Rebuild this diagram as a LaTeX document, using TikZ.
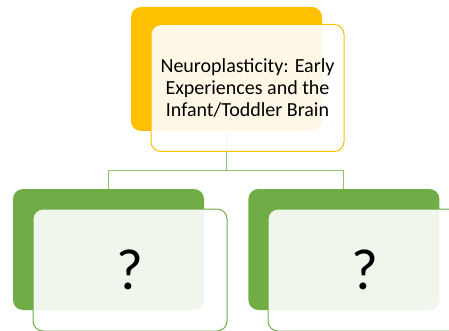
\documentclass[tikz,border=0pt]{standalone}
\usepackage{fontspec}
\setmainfont{Carlito}
\usepackage{xcolor}
\usetikzlibrary{positioning}

\definecolor{gold}{HTML}{FFC000}
\definecolor{leaf}{HTML}{70AD47}
\definecolor{leaflink}{HTML}{8CC168}

\begin{document}
\begin{tikzpicture}[
    x=1pt, y=-1pt,
    node distance=44pt,
    backbox/.style={rounded corners=10pt, minimum width=191pt, inner sep=0pt},
    frontbox/.style={draw, line width=1pt, fill=white, fill opacity=0.9, text opacity=1,
      rounded corners=10pt, minimum width=194pt, inner sep=0pt, align=center},
    link/.style={draw=leaflink, line width=1pt}
]
  \useasboundingbox (0,0) rectangle (449,331);

  % back tiles
  \node[backbox, fill=gold, minimum height=124pt] (topback) at (226.5,69) {};
  \node[backbox, fill=leaf, minimum height=121pt] (lback) at (108.5,249.5) {};
  \node[backbox, fill=leaf, minimum height=121pt, right=of lback] (rback) {};

  % tree lines
  \coordinate (hub) at (226.5,170);
  \draw[link] (topback.south) -- (hub);
  \draw[link] (hub) -| (lback.north);
  \draw[link] (hub) -| (rback.north);

  % front tiles
  \node[frontbox, draw=gold, minimum height=127pt, minimum width=193pt,
        font=\fontsize{20}{22}\selectfont] (topfront) at (247.5,88)
        {Neuroplasticity: Early\\Experiences and the\\Infant/Toddler Brain};
  \node[frontbox, draw=leaf, minimum height=122pt,
        font=\fontsize{58}{60}\selectfont] (lfront) at (130,270) {?};
  \node[frontbox, draw=leaf, minimum height=122pt,
        font=\fontsize{58}{60}\selectfont] (rfront) at (365,270) {?};
\end{tikzpicture}
\end{document}
